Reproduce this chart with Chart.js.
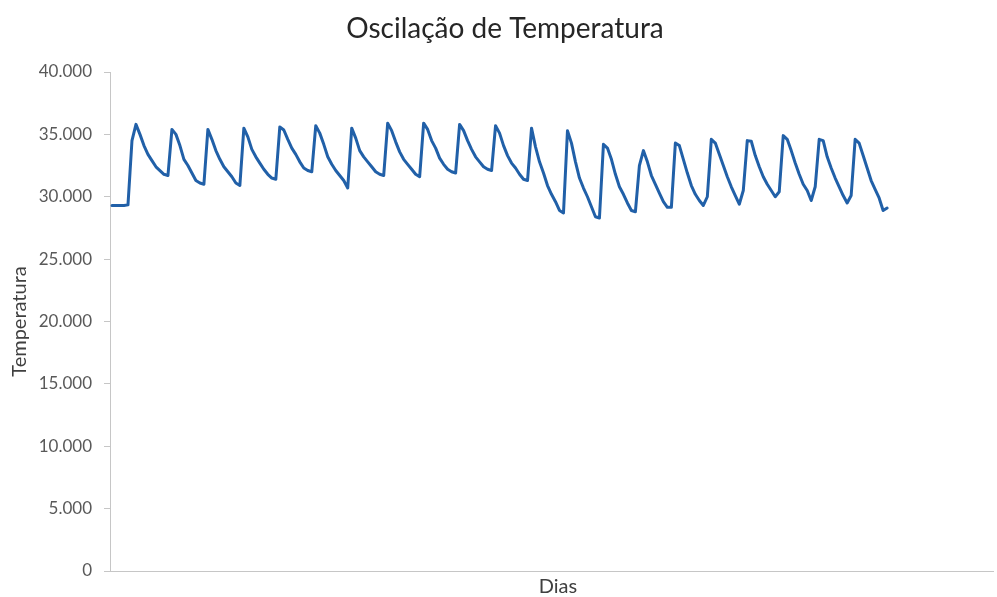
<!DOCTYPE html>
<html lang="pt-BR">
<head>
<meta charset="utf-8">
<title>Oscilação de Temperatura</title>
<script src="https://cdn.jsdelivr.net/npm/chart.js@4/dist/chart.umd.min.js"></script>
<style>
  html, body { margin: 0; padding: 0; background: #ffffff; }
  #wrap { width: 997px; height: 597px; }
</style>
</head>
<body>
<div id="wrap"><canvas id="grafico" width="997" height="597"></canvas></div>
<script>
// Textos do gráfico
const titulo = 'Oscilação de Temperatura';
const tituloY = 'Temperatura';
const tituloX = 'Dias';

// Eixo de categorias: um slot por leitura (as últimas ficam vazias)
const totalDias = 221;
const dias = Array.from({ length: totalDias }, (_, i) => i + 1);

// Leituras de temperatura, em ordem
const temperatura = [
  29300, 29300, 29300, 29300, 29350, 34500,
  35800, 35000, 34100, 33400, 32900, 32400, 32100, 31800, 31700,
  35400, 35000, 34100, 33000, 32500, 31900, 31300, 31100, 31000,
  35400, 34600, 33700, 33000, 32400, 32000, 31600, 31100, 30900,
  35500, 34800, 33800, 33200, 32700, 32200, 31800, 31500, 31400,
  35600, 35350, 34600, 33900, 33400, 32800, 32300, 32100, 32000,
  35700, 35100, 34200, 33200, 32600, 32100, 31700, 31300, 30700,
  35500, 34700, 33700, 33200, 32800, 32400, 32000, 31800, 31700,
  35900, 35300, 34400, 33600, 33000, 32600, 32200, 31800, 31600,
  35900, 35400, 34500, 33900, 33100, 32600, 32200, 32000, 31900,
  35800, 35300, 34500, 33800, 33200, 32800, 32400, 32200, 32100,
  35700, 35100, 34100, 33300, 32700, 32300, 31800, 31400, 31300,
  35500, 34000, 32800, 31900, 30900, 30200, 29600, 28900, 28700,
  35300, 34300, 32800, 31500, 30700, 30000, 29200, 28400, 28300,
  34200, 33900, 33000, 31800, 30800, 30200, 29500, 28900, 28800,
  32500, 33700, 32800, 31700, 31000, 30300, 29600, 29150, 29150,
  34300, 34100, 33000, 31900, 30900, 30200, 29700, 29300, 30000,
  34600, 34300, 33400, 32500, 31600, 30800, 30100, 29400, 30500,
  34500, 34450, 33300, 32400, 31600, 31000, 30500, 30000, 30400,
  34900, 34600, 33700, 32700, 31800, 31000, 30500, 29700, 30800,
  34600, 34500, 33200, 32300, 31500, 30800, 30100, 29500, 30100,
  34600, 34300, 33300, 32300, 31300, 30600, 29900, 28900, 29100
];

// Rótulos do eixo vertical
const rotulosY = ['0', '5.000', '10.000', '15.000', '20.000', '25.000', '30.000', '35.000', '40.000'];

const corEixo = '#c6c6c6';
const fonte = 'Lato, "Open Sans", sans-serif';

// Título do gráfico e título do eixo horizontal, desenhados sobre o canvas
const textosFixos = {
  id: 'textosFixos',
  afterDraw(chart) {
    const ctx = chart.ctx;
    ctx.save();
    ctx.textAlign = 'center';
    ctx.textBaseline = 'middle';
    ctx.fillStyle = '#262626';
    ctx.font = '28px ' + fonte;
    ctx.fillText(titulo, 505, 29);
    ctx.fillStyle = '#404040';
    ctx.font = '20px ' + fonte;
    ctx.fillText(tituloX, 558, 587);
    ctx.restore();
  }
};

new Chart(document.getElementById('grafico'), {
  type: 'line',
  data: {
    labels: dias,
    datasets: [{
      label: tituloY,
      data: temperatura,
      borderColor: '#2160A8',
      borderWidth: 3,
      pointRadius: 0,
      tension: 0,
      fill: false,
      borderJoinStyle: 'round',
      borderCapStyle: 'round'
    }]
  },
  options: {
    responsive: false,
    animation: false,
    devicePixelRatio: 1,
    layout: { padding: { left: 0, right: 4, top: 72, bottom: 0 } },
    plugins: {
      legend: { display: false },
      tooltip: { enabled: false },
      title: { display: false }
    },
    scales: {
      x: {
        type: 'category',
        offset: true,
        grid: { display: false },
        border: { display: true, color: corEixo, width: 1 },
        ticks: { display: false },
        afterFit: (s) => { s.height = 26; }
      },
      y: {
        min: 0,
        max: 40000,
        grid: { drawOnChartArea: false, drawTicks: true, tickLength: 6, color: corEixo },
        border: { display: true, color: corEixo, width: 1 },
        ticks: {
          stepSize: 5000,
          padding: 12,
          color: '#595959',
          font: { family: fonte, size: 17 },
          callback: (v, i) => rotulosY[i]
        },
        title: {
          display: true,
          text: tituloY,
          color: '#404040',
          font: { family: fonte, size: 20, lineHeight: 1 },
          padding: { top: 10, bottom: 0 }
        },
        afterFit: (s) => { s.width = 110; }
      }
    }
  },
  plugins: [textosFixos]
});
</script>
</body>
</html>
